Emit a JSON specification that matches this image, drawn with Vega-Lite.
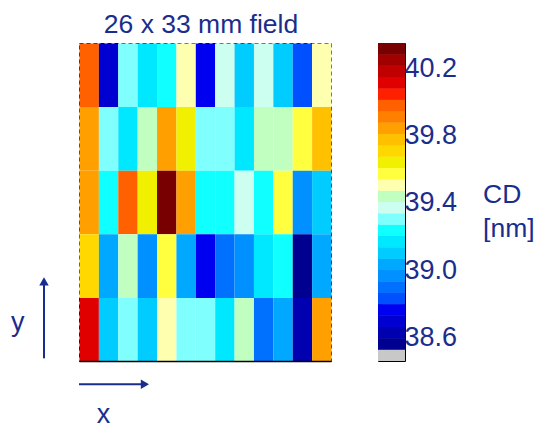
{
  "$schema": "https://vega.github.io/schema/vega-lite/v6.json",
  "padding": {"left": 10, "top": 11, "right": 0, "bottom": 0},
  "config": {"font": "Liberation Sans", "view": {"stroke": null}, "axis": {"grid": false}},
  "datasets": {
    "field": [
      {"row": 4, "col": 0, "cd": 39.98}, {"row": 4, "col": 1, "cd": 38.70}, {"row": 4, "col": 2, "cd": 39.30}, {"row": 4, "col": 3, "cd": 39.17}, {"row": 4, "col": 4, "cd": 39.24}, {"row": 4, "col": 5, "cd": 39.51}, {"row": 4, "col": 6, "cd": 38.76}, {"row": 4, "col": 7, "cd": 39.37}, {"row": 4, "col": 8, "cd": 39.10}, {"row": 4, "col": 9, "cd": 39.37}, {"row": 4, "col": 10, "cd": 39.10}, {"row": 4, "col": 11, "cd": 38.83}, {"row": 4, "col": 12, "cd": 39.51},
      {"row": 3, "col": 0, "cd": 39.84}, {"row": 3, "col": 1, "cd": 39.30}, {"row": 3, "col": 2, "cd": 39.17}, {"row": 3, "col": 3, "cd": 39.44}, {"row": 3, "col": 4, "cd": 39.84}, {"row": 3, "col": 5, "cd": 39.64}, {"row": 3, "col": 6, "cd": 39.30}, {"row": 3, "col": 7, "cd": 39.30}, {"row": 3, "col": 8, "cd": 39.17}, {"row": 3, "col": 9, "cd": 39.44}, {"row": 3, "col": 10, "cd": 39.44}, {"row": 3, "col": 11, "cd": 39.57}, {"row": 3, "col": 12, "cd": 39.78},
      {"row": 2, "col": 0, "cd": 39.84}, {"row": 2, "col": 1, "cd": 39.24}, {"row": 2, "col": 2, "cd": 39.98}, {"row": 2, "col": 3, "cd": 39.64}, {"row": 2, "col": 4, "cd": 40.32}, {"row": 2, "col": 5, "cd": 39.84}, {"row": 2, "col": 6, "cd": 39.24}, {"row": 2, "col": 7, "cd": 39.24}, {"row": 2, "col": 8, "cd": 39.37}, {"row": 2, "col": 9, "cd": 39.24}, {"row": 2, "col": 10, "cd": 39.57}, {"row": 2, "col": 11, "cd": 38.97}, {"row": 2, "col": 12, "cd": 39.10},
      {"row": 1, "col": 0, "cd": 39.71}, {"row": 1, "col": 1, "cd": 39.03}, {"row": 1, "col": 2, "cd": 39.44}, {"row": 1, "col": 3, "cd": 38.97}, {"row": 1, "col": 4, "cd": 39.57}, {"row": 1, "col": 5, "cd": 39.03}, {"row": 1, "col": 6, "cd": 38.76}, {"row": 1, "col": 7, "cd": 38.90}, {"row": 1, "col": 8, "cd": 38.97}, {"row": 1, "col": 9, "cd": 39.17}, {"row": 1, "col": 10, "cd": 39.24}, {"row": 1, "col": 11, "cd": 38.56}, {"row": 1, "col": 12, "cd": 39.03},
      {"row": 0, "col": 0, "cd": 40.11}, {"row": 0, "col": 1, "cd": 39.10}, {"row": 0, "col": 2, "cd": 39.30}, {"row": 0, "col": 3, "cd": 39.10}, {"row": 0, "col": 4, "cd": 39.51}, {"row": 0, "col": 5, "cd": 39.30}, {"row": 0, "col": 6, "cd": 39.30}, {"row": 0, "col": 7, "cd": 39.17}, {"row": 0, "col": 8, "cd": 39.44}, {"row": 0, "col": 9, "cd": 38.90}, {"row": 0, "col": 10, "cd": 39.03}, {"row": 0, "col": 11, "cd": 38.63}, {"row": 0, "col": 12, "cd": 39.84}
    ],
    "bar": [
      {"lo": 38.46, "hi": 38.5275}, {"lo": 38.5275, "hi": 38.595}, {"lo": 38.595, "hi": 38.6625}, {"lo": 38.6625, "hi": 38.73},
      {"lo": 38.73, "hi": 38.7975}, {"lo": 38.7975, "hi": 38.865}, {"lo": 38.865, "hi": 38.9325}, {"lo": 38.9325, "hi": 39.0},
      {"lo": 39.0, "hi": 39.0675}, {"lo": 39.0675, "hi": 39.135}, {"lo": 39.135, "hi": 39.2025}, {"lo": 39.2025, "hi": 39.27},
      {"lo": 39.27, "hi": 39.3375}, {"lo": 39.3375, "hi": 39.405}, {"lo": 39.405, "hi": 39.4725}, {"lo": 39.4725, "hi": 39.54},
      {"lo": 39.54, "hi": 39.6075}, {"lo": 39.6075, "hi": 39.675}, {"lo": 39.675, "hi": 39.7425}, {"lo": 39.7425, "hi": 39.81},
      {"lo": 39.81, "hi": 39.8775}, {"lo": 39.8775, "hi": 39.945}, {"lo": 39.945, "hi": 40.0125}, {"lo": 40.0125, "hi": 40.08},
      {"lo": 40.08, "hi": 40.1475}, {"lo": 40.1475, "hi": 40.215}, {"lo": 40.215, "hi": 40.2825}, {"lo": 40.2825, "hi": 40.35}
    ]
  },
  "hconcat": [
    {
      "width": 252,
      "height": 318,
      "title": {"text": "26 x 33 mm field", "fontSize": 26.5, "fontWeight": "normal", "color": "#1b2d8c", "baseline": "alphabetic", "offset": -16, "anchor": "middle", "dx": -4},
      "view": {"stroke": "black", "strokeDash": [4, 3], "strokeWidth": 1},
      "layer": [
        {
          "data": {"name": "field"},
          "mark": {"type": "rect"},
          "encoding": {
            "x": {"field": "col", "type": "quantitative", "bin": {"binned": true, "step": 1}, "scale": {"domain": [0, 13], "nice": false, "zero": false}, "axis": {"labels": false, "ticks": false, "title": null, "domainColor": "black", "domainWidth": 1.5}},
            "y": {"field": "row", "type": "quantitative", "bin": {"binned": true, "step": 1}, "scale": {"domain": [0, 5], "nice": false, "zero": false}, "axis": null},
            "color": {
              "field": "cd", "type": "quantitative", "legend": null,
              "scale": {
                "type": "threshold",
                "domain": [38.5275, 38.595, 38.6625, 38.73, 38.7975, 38.865, 38.9325, 39.0, 39.0675, 39.135, 39.2025, 39.27, 39.3375, 39.405, 39.4725, 39.54, 39.6075, 39.675, 39.7425, 39.81, 39.8775, 39.945, 40.0125, 40.08, 40.1475, 40.215, 40.2825],
                "range": ["#c8c8c8", "#000090", "#0000b0", "#0000d0", "#0000f0", "#0050ff", "#0070ff", "#0090ff", "#00a8ff", "#00ccff", "#00e8ff", "#10ffff", "#80ffff", "#ccfff0", "#c0ffc0", "#ffffb0", "#ffff40", "#f0f000", "#ffd800", "#ffc000", "#ffa000", "#ff8000", "#ff6000", "#ff2000", "#e00000", "#c00000", "#a00000", "#780000"]
              }
            }
          }
        },
        {
          "data": {"values": [{}]},
          "mark": {"type": "rule", "color": "#1b2d8c", "strokeWidth": 2},
          "encoding": {
            "x": {"datum": -1.806, "type": "quantitative"},
            "y": {"datum": 0.042, "type": "quantitative"},
            "y2": {"datum": 1.25}
          }
        },
        {
          "data": {"values": [{}]},
          "mark": {"type": "point", "shape": "triangle-up", "filled": true, "opacity": 1, "color": "#1b2d8c", "size": 90},
          "encoding": {
            "x": {"datum": -1.806, "type": "quantitative"},
            "y": {"datum": 1.252, "type": "quantitative"}
          }
        },
        {
          "data": {"values": [{}]},
          "mark": {"type": "rule", "color": "#1b2d8c", "strokeWidth": 2},
          "encoding": {
            "x": {"datum": 0, "type": "quantitative"},
            "x2": {"datum": 3.4},
            "y": {"datum": -0.366, "type": "quantitative"}
          }
        },
        {
          "data": {"values": [{}]},
          "mark": {"type": "point", "shape": "triangle-right", "filled": true, "opacity": 1, "color": "#1b2d8c", "size": 90},
          "encoding": {
            "x": {"datum": 3.4, "type": "quantitative"},
            "y": {"datum": -0.366, "type": "quantitative"}
          }
        },
        {
          "data": {"values": [{}]},
          "mark": {"type": "text", "text": "x", "fontSize": 27, "color": "#1b2d8c", "align": "center", "baseline": "alphabetic"},
          "encoding": {
            "x": {"datum": 1.264, "type": "quantitative"},
            "y": {"datum": -0.98, "type": "quantitative"}
          }
        },
        {
          "data": {"values": [{}]},
          "mark": {"type": "text", "text": "y", "fontSize": 27, "color": "#1b2d8c", "align": "center", "baseline": "alphabetic"},
          "encoding": {
            "x": {"datum": -3.16, "type": "quantitative"},
            "y": {"datum": 0.475, "type": "quantitative"}
          }
        }
      ]
    },
    {
      "width": 27,
      "height": 318,
      "view": {"stroke": "black", "strokeWidth": 1},
      "data": {"name": "bar"},
      "layer": [
        {
          "mark": {"type": "rect"},
          "encoding": {
            "x": {"datum": 0, "type": "quantitative", "scale": {"domain": [0, 1], "nice": false, "zero": false}, "axis": null},
            "x2": {"datum": 1},
            "y": {"field": "lo", "type": "quantitative", "scale": {"domain": [38.46, 40.35], "nice": false, "zero": false},
              "axis": {"orient": "left", "values": [38.6, 38.8, 39.0, 39.2, 39.4, 39.6, 39.8, 40.0, 40.2], "labels": false, "domain": false, "tickSize": -4, "tickColor": "black", "title": null}},
            "y2": {"field": "hi"},
            "color": {
              "field": "lo", "type": "quantitative", "legend": null,
              "scale": {
                "type": "threshold",
                "domain": [38.5275, 38.595, 38.6625, 38.73, 38.7975, 38.865, 38.9325, 39.0, 39.0675, 39.135, 39.2025, 39.27, 39.3375, 39.405, 39.4725, 39.54, 39.6075, 39.675, 39.7425, 39.81, 39.8775, 39.945, 40.0125, 40.08, 40.1475, 40.215, 40.2825],
                "range": ["#c8c8c8", "#000090", "#0000b0", "#0000d0", "#0000f0", "#0050ff", "#0070ff", "#0090ff", "#00a8ff", "#00ccff", "#00e8ff", "#10ffff", "#80ffff", "#ccfff0", "#c0ffc0", "#ffffb0", "#ffff40", "#f0f000", "#ffd800", "#ffc000", "#ffa000", "#ff8000", "#ff6000", "#ff2000", "#e00000", "#c00000", "#a00000", "#780000"]
              }
            }
          }
        },
        {
          "mark": {"type": "rect"},
          "encoding": {
            "x": {"datum": 0, "type": "quantitative"},
            "x2": {"datum": 1},
            "y": {"field": "lo", "type": "quantitative",
              "axis": {"orient": "right", "values": [38.6, 38.8, 39.0, 39.2, 39.4, 39.6, 39.8, 40.0, 40.2], "domain": false, "tickSize": -4, "tickColor": "black",
                "labelExpr": "round(datum.value*10) % 4 == 2 ? format(datum.value, '.1f') : ''",
                "labelFontSize": 27, "labelColor": "#1b2d8c", "labelPadding": 3, "labelBaseline": "middle",
                "title": ["CD", "[nm]"], "titleAngle": 0, "titleAlign": "left", "titleBaseline": "alphabetic", "titleFontSize": 26.5, "titleFontWeight": "normal", "titleColor": "#1b2d8c", "titlePadding": -8, "titleLineHeight": 34}},
            "y2": {"field": "hi"},
            "color": {
              "field": "lo", "type": "quantitative", "legend": null,
              "scale": {
                "type": "threshold",
                "domain": [38.5275, 38.595, 38.6625, 38.73, 38.7975, 38.865, 38.9325, 39.0, 39.0675, 39.135, 39.2025, 39.27, 39.3375, 39.405, 39.4725, 39.54, 39.6075, 39.675, 39.7425, 39.81, 39.8775, 39.945, 40.0125, 40.08, 40.1475, 40.215, 40.2825],
                "range": ["#c8c8c8", "#000090", "#0000b0", "#0000d0", "#0000f0", "#0050ff", "#0070ff", "#0090ff", "#00a8ff", "#00ccff", "#00e8ff", "#10ffff", "#80ffff", "#ccfff0", "#c0ffc0", "#ffffb0", "#ffff40", "#f0f000", "#ffd800", "#ffc000", "#ffa000", "#ff8000", "#ff6000", "#ff2000", "#e00000", "#c00000", "#a00000", "#780000"]
              }
            }
          }
        }
      ],
      "resolve": {"axis": {"y": "independent"}}
    }
  ],
  "spacing": 45
}
